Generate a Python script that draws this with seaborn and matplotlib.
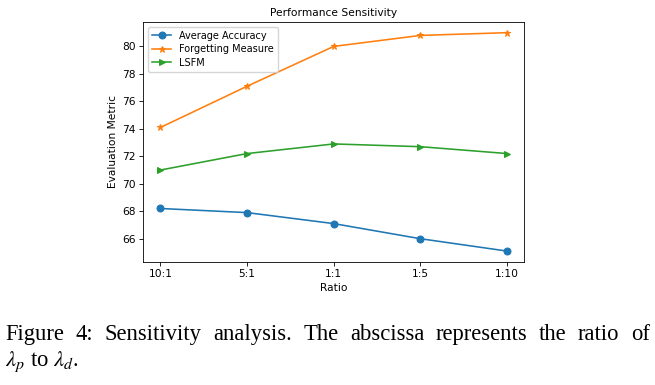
import matplotlib
matplotlib.use("Agg")
import matplotlib.pyplot as plt
import seaborn as sns
import pandas as pd

ratios = ["10:1", "5:1", "1:1", "1:5", "1:10"]
avg_acc = [68.2, 67.9, 67.1, 66.0, 65.1]
forgetting = [74.1, 77.1, 80.0, 80.8, 81.0]
lsfm = [71.0, 72.2, 72.9, 72.7, 72.2]
series_names = ["Average Accuracy", "Forgetting Measure", "LSFM"]
caption_line1 = "Figure 4: Sensitivity analysis.  The abscissa represents the ratio of"
caption_line2 = r"$\lambda_p$ to $\lambda_d$."

plt.rcParams["mathtext.fontset"] = "stix"

fig = plt.figure(figsize=(6.55, 3.85), dpi=100)
ax = fig.add_axes([0.2185, 0.3195, 0.582, 0.624])

fs = 7.7
specs = [(avg_acc, "o", "#1f77b4"), (forgetting, "*", "#ff7f0e"), (lsfm, ">", "#2ca02c")]
for name, (vals, mk, col) in zip(series_names, specs):
    df = pd.DataFrame({"Ratio": ratios, "val": vals})
    sns.lineplot(data=df, x="Ratio", y="val", ax=ax, marker=mk, color=col,
                 label=name, sort=False, linewidth=1.15, markersize=5.0,
                 markeredgecolor=col)

ax.set_title("Performance Sensitivity", fontsize=fs, pad=4)
ax.set_xlabel("Ratio", fontsize=fs, labelpad=2.5)
ax.set_ylabel("Evaluation Metric", fontsize=fs, labelpad=3)
ax.tick_params(labelsize=fs, length=2.7, width=0.6, pad=2.5)
for s in ax.spines.values():
    s.set_linewidth(0.6)
ax.set_yticks([66, 68, 70, 72, 74, 76, 78, 80])
ax.legend(loc="upper left", fontsize=7.0, handlelength=2.0, borderpad=0.4,
          labelspacing=0.38, framealpha=0.8)

# justified caption line 1
cfs = 16.3
W, H = 655.0, 385.0
x_left, x_right = 5.0, 650.0
y1 = 1 - 340.0 / H
y2 = 1 - 366.0 / H
words = caption_line1.split()
fig.canvas.draw()
renderer = fig.canvas.get_renderer()
txts = []
widths = []
for w in words:
    t = fig.text(0, y1, w, fontsize=cfs, family="Liberation Serif", ha="left", va="baseline")
    bb = t.get_window_extent(renderer=renderer)
    txts.append(t)
    widths.append(bb.width)
gap = (x_right - x_left - sum(widths)) / (len(words) - 1)
x = x_left
for t, wd in zip(txts, widths):
    t.set_x(x / W)
    x += wd + gap

fig.text(x_left / W, y2, caption_line2, fontsize=cfs, family="Liberation Serif",
         ha="left", va="baseline")

fig.savefig("out.png", dpi=100)
